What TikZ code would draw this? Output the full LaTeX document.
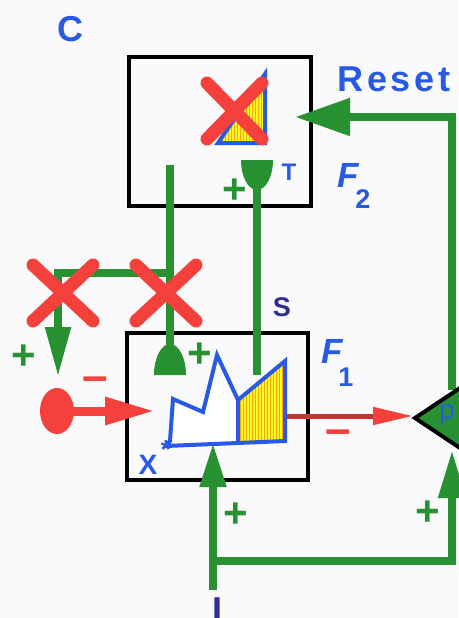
\documentclass[tikz,border=0pt]{standalone}
\usepackage{fontspec}
\setmainfont{Liberation Sans}
\usetikzlibrary{arrows.meta,patterns}
\definecolor{artgreen}{RGB}{40,145,50}
\definecolor{artred}{RGB}{245,65,60}
\definecolor{artblue}{RGB}{40,90,230}
\definecolor{artnavy}{RGB}{45,45,150}
\definecolor{artyellow}{RGB}{250,250,40}
\definecolor{bgc}{RGB}{250,250,252}
\newcommand{\fsz}[1]{\fontsize{#1}{#1}\selectfont}
\begin{document}
\begin{tikzpicture}[x=1pt,y=-1pt,
  gline/.style={draw=artgreen,line width=8pt},
  redx/.style={draw=artred,line width=13pt,line cap=round},
  boxnode/.style={draw=black,line width=4pt,inner sep=0pt,minimum width=#1},
  lbl/.style={text=artblue,inner sep=0pt},
  plussign/.style={text=artgreen,inner sep=0pt,font=\bfseries\fsz{42}},
  minussign/.style={text=artred,inner sep=0pt,font=\bfseries\fsz{46}},
  blueline/.style={draw=artblue,line width=4pt,line join=miter}
]
\useasboundingbox (0,0) rectangle (458,618);
\fill[bgc] (0,0) rectangle (458,618);

% boxes
\node[boxnode=182pt,minimum height=149pt] (F2box) at (220,131.5) {};
\node[boxnode=181pt,minimum height=147pt] (F1box) at (217.5,406.5) {};

% F2 content: triangle
\coordinate (t1) at (218,143);
\coordinate (t2) at (265,74);
\coordinate (t3) at (265,143);
\fill[artyellow] (t1) -- (t2) -- (t3) -- cycle;
\fill[pattern=vertical lines,pattern color=orange!70!yellow] (t1) -- (t2) -- (t3) -- cycle;
\draw[blueline] (t1) -- (t2) -- (t3) -- cycle;

% F1 content: jagged pattern
\coordinate (p1) at (170,441);
\coordinate (p2) at (173,399);
\coordinate (p3) at (203,412);
\coordinate (p4) at (217,355);
\coordinate (p5) at (238,400);
\coordinate (p6) at (285,361);
\coordinate (p7) at (285,441);
\coordinate (p8) at (238,441);
\coordinate (p9) at (166,446);
\fill[white] (p1) -- (p2) -- (p3) -- (p4) -- (p5) -- (p6) -- (p7) -- cycle;
\fill[artyellow] (p5) -- (p6) -- (p7) -- (p8) -- cycle;
\fill[pattern=vertical lines,pattern color=orange!70!yellow] (p5) -- (p6) -- (p7) -- (p8) -- cycle;
\draw[blueline] (p9) -- (p1) -- (p2) -- (p3) -- (p4) -- (p5) -- (p6) -- (p7) -- cycle;
\draw[blueline] (p5) -- (p8);

% green connectors
\coordinate (rs) at (452,390);
\coordinate (rtip) at (295,117);
\draw[gline,-{Triangle[length=55pt,width=36pt]}] (rs) |- (rtip);

\coordinate (ltop) at (170,165);
\coordinate (lbot) at (170,350);
\coordinate (ljn) at (170,273);
\coordinate (ltip) at (58,377);
\draw[gline] (ltop) -- (lbot);
\draw[gline,-{Triangle[length=50pt,width=24pt]}] (ljn) -| (ltip);
\fill[artgreen] (154,375) arc[start angle=180,end angle=360,x radius=16,y radius=31] -- cycle;

\coordinate (ttop) at (257,175);
\coordinate (tbot) at (257,375);
\draw[gline] (ttop) -- (tbot);
\fill[artgreen] (241,160) arc[start angle=180,end angle=0,x radius=16,y radius=30] -- cycle;

\coordinate (ibot) at (213,590);
\coordinate (itip) at (213,443);
\draw[gline,-{Triangle[length=44pt,width=25pt]}] (ibot) -- (itip);
\coordinate (jl) at (209,561);
\coordinate (ptip) at (452,450);
\draw[gline,-{Triangle[length=48pt,width=26pt]}] (jl) -| (ptip);

% p triangle
\coordinate (q1) at (415,418);
\coordinate (q2) at (478,376);
\coordinate (q3) at (478,460);
\fill[artgreen] (q1) -- (q2) -- (q3) -- cycle;
\draw[black,line width=4pt,line join=miter] (q1) -- (q2) -- (q3) -- cycle;
\node[lbl,font=\fsz{28}] (plab) at (447,415) {p};

% red input
\coordinate (ball) at (57,411);
\coordinate (btip) at (155,411);
\fill[artred] (ball) ellipse[x radius=17,y radius=23];
\draw[draw=artred,line width=9pt,-{Triangle[length=50pt,width=26pt]}] (ball) -- (btip);

% red output
\coordinate (ostart) at (287,416);
\coordinate (otip) at (413,416);
\draw[draw=artred!80!black,line width=5pt,-{Triangle[length=40pt,width=17pt,color=artred]}] (ostart) -- (otip);

% red crosses
\draw[redx] (33,265) -- (93,321) (93,265) -- (33,321);
\draw[redx] (136,265) -- (196,321) (196,265) -- (136,321);
\draw[redx] (207,83) -- (262,139) (262,83) -- (207,139);

% labels
\node[lbl,font=\bfseries\fsz{36}] (clab) at (70,29) {C};
\node[lbl,font=\bfseries\fsz{36}\addfontfeatures{LetterSpace=10}] (reset) at (394,79) {Reset};
\node[lbl,font=\bfseries\itshape\fsz{35}] (f2F) at (348,175) {F};
\node[lbl,font=\bfseries\fsz{27}] (f2n) at (363,199) {2};
\node[lbl,font=\bfseries\itshape\fsz{35}] (f1F) at (332,351) {F};
\node[lbl,font=\bfseries\fsz{27}] (f1n) at (346,377) {1};
\node[lbl,font=\bfseries\fsz{24}] (tlab) at (289,172) {T};
\node[text=artnavy,inner sep=0pt,font=\bfseries\fsz{27}] (slab) at (282,307) {S};
\node[lbl,font=\bfseries\fsz{28}] (xlab) at (148,465) {X};
\node[lbl,font=\bfseries\fsz{26}] (xstar) at (166,450) {*};
\node[text=artnavy,inner sep=0pt,font=\bfseries\fsz{36}] (ilab) at (217,610) {I};

\node[plussign] (pl1) at (24,357) {+};
\node[plussign] (pl2) at (200,355) {+};
\node[plussign] (pl3) at (235,191) {+};
\node[plussign] (pl4) at (236,515) {+};
\node[plussign] (pl5) at (428,513) {+};
\node[minussign] (mi1) at (95,384) {–};
\node[minussign] (mi2) at (338,437) {–};
\end{tikzpicture}
\end{document}
